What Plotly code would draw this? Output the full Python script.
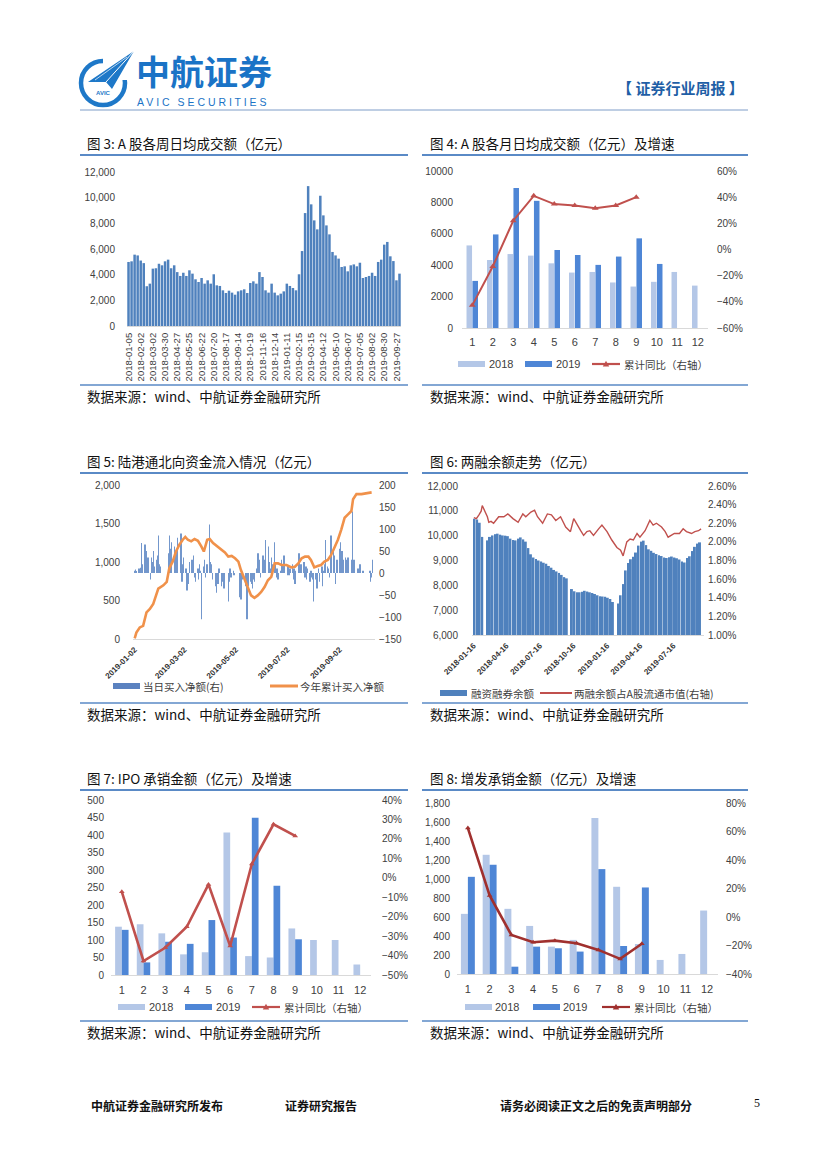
import plotly.graph_objects as go
import pandas as pd

# page offset: the browser adds an 8px body margin
OFF = 8
W, H = 827 - OFF, 1169 - OFF
def X(px): return (px - OFF) / W
def Y(py): return 1 - (py - OFF) / H

CJK = "Noto Sans CJK SC"
ARIAL = "Liberation Sans"
TXT = "#262626"
AX = "#404040"
BLUE = "#4F81BD"
LIGHT = "#B4C7E7"
MID = "#4E86D6"
RED = "#C0504D"
DARKRED = "#A0302E"
ORANGE = "#F0914A"
LINEBLUE = "#5A8AC6"

# ---------------- Chart 3: weekly average turnover (亿元)
c3_values = [4990, 5040, 5560, 5500, 5100, 4900, 3100, 3300, 4470, 4500, 4850, 4730,
             5040, 5170, 4500, 4730, 4200, 3900, 4150, 3900, 4340, 4080, 3640, 3430,
             3740, 3300, 3560, 3300, 4030, 3170, 3120, 2780, 2570, 2750, 2600, 2440,
             2700, 2780, 2860, 2570, 3350, 3480, 3300, 4200, 3820, 2780, 2600, 3300,
             2600, 2390, 2520,
             2700, 3300, 3120, 2960, 2780, 4030, 5840, 8800, 10900, 9480, 8230, 7530,
             10150, 8620, 7840, 7140, 5770, 5500, 5250, 4600, 4650, 4260, 4730, 4800,
             4650, 4930, 3740, 3820, 3900, 4150, 3900, 4990, 5170, 6340, 6550, 5430,
             5060, 3560, 4080]
c3_skip = ["2018-10-05", "2019-02-08", "2019-10-04"]
c3_dates = [d.strftime("%Y-%m-%d") for d in pd.date_range("2018-01-05", "2019-10-11", freq="W-FRI")
            if d.strftime("%Y-%m-%d") not in c3_skip]
n3 = min(len(c3_dates), len(c3_values))
c3_dates, c3_values = c3_dates[:n3], c3_values[:n3]
c3_ticks = c3_dates[::4][:23]

# ---------------- Chart 4: monthly average turnover
months = [str(i) for i in range(1, 13)]
c4_2018 = [5260, 4330, 4710, 4610, 4120, 3530, 3570, 2900, 2640, 2940, 3570, 2700]
c4_2019 = [3000, 5960, 8920, 8100, 4970, 4650, 4020, 4550, 5710, 4080]
c4_yoy = [-42.7, -13, 22, 41, 34.7, 33.7, 31.6, 33.7, 40]

# ---------------- Chart 5: northbound flows 2019
c5_jan = [5, 8, 3, 10, 6, 12, 68, 20, 65, 30, 50, 20, 35, -15, 35, 25, 50, 15, 30, 40, 85, 20]
c5_feb = [15, 45, 85, 55, 30, 70, 60, 35, 50, 35, 80, 40, 90, -20, 20]
c5_mar = [35, 10, -40, -15, -25, 25, 30, 5, 40, -10, -20, 10, -15, 20, 5, -105, 15, 30, -10, 5, 20]
c5_apr = [110, 25, 20, -15, -30, -45, -20, -25, 10, -30, -20, -5, -35, -65, -20, 10, -10, 5, -5]
c5_may = [-5, -55, -60, -55, -15, -30, -105, -40, -30, -20, -25, -35, -15, -20, 10, 45, 25, 30, -10]
c5_jun = [40, 15, 30, 75, 60, 25, 10, 35, 20, 70, 20, -10, 10, -15, 5, 30, 20, 15, 40]
c5_jul = [-5, 15, -5, 10, 20, -15, 10, -25, 5, 15, 45, 20, 10, 20, 25, -10, 15, -15, 10, -20, 5, -10]
c5_aug = [-15, -65, -15, -35, -10, 10, -20, 15, -30, 5, 20, 75, 15, 10, -10, 20, 85, 55, 40, -25, 20, 30]
c5_sep = [55, 70, 40, 50, 30, 35, 30, 25, 35, 30, 140, 20, 30, 15, 5, 10, 5, 20, 10, 5]
c5_oct = [5, -20, -10, 30]
c5_daily = c5_jan + c5_feb + c5_mar + c5_apr + c5_may + c5_jun + c5_jul + c5_aug + c5_sep + c5_oct
c5_closed = ["2019-02-04", "2019-02-05", "2019-02-06", "2019-02-07", "2019-02-08", "2019-04-05",
             "2019-04-19", "2019-04-22", "2019-05-01", "2019-05-02", "2019-05-03", "2019-05-13",
             "2019-06-07", "2019-07-01", "2019-09-13", "2019-10-01", "2019-10-02", "2019-10-03",
             "2019-10-04", "2019-10-07"]
c5_days = [d.strftime("%Y-%m-%d") for d in pd.bdate_range("2019-01-02", "2019-10-11")
           if d.strftime("%Y-%m-%d") not in c5_closed]
n5 = min(len(c5_days), len(c5_daily))
c5_days, c5_daily = c5_days[:n5], c5_daily[:n5]

c5_cum_dates = ["2019-01-02", "2019-01-04", "2019-01-08", "2019-01-12", "2019-01-16", "2019-01-20",
                "2019-01-24", "2019-01-30", "2019-02-05", "2019-02-09", "2019-02-12", "2019-02-16",
                "2019-02-20", "2019-02-24", "2019-02-28", "2019-03-03", "2019-03-06", "2019-03-10",
                "2019-03-14", "2019-03-18", "2019-03-22", "2019-03-25", "2019-03-29", "2019-04-01",
                "2019-04-05", "2019-04-10", "2019-04-15", "2019-04-19", "2019-04-23", "2019-04-27",
                "2019-05-01", "2019-05-05", "2019-05-08", "2019-05-12", "2019-05-16", "2019-05-20",
                "2019-05-24", "2019-05-28", "2019-06-01", "2019-06-05", "2019-06-09", "2019-06-13",
                "2019-06-17", "2019-06-21", "2019-06-25", "2019-07-01", "2019-07-07", "2019-07-11",
                "2019-07-15", "2019-07-19", "2019-07-23", "2019-07-27", "2019-07-30", "2019-08-03",
                "2019-08-07", "2019-08-11", "2019-08-15", "2019-08-19", "2019-08-23", "2019-08-27",
                "2019-08-31", "2019-09-04", "2019-09-08", "2019-09-12", "2019-09-16", "2019-09-18",
                "2019-09-22", "2019-09-28", "2019-10-04", "2019-10-10"]
c5_cum = [9, 83, 150, 171, 346, 390, 456, 654, 697, 741, 917, 1004, 1136, 1224, 1289,
          1325, 1289, 1268, 1298, 1276, 1202, 1136, 1289, 1298, 1246, 1202, 1158, 1123, 1070, 1079,
          1048, 1004, 895, 785, 675, 566, 535, 566, 610, 675, 763, 807, 982, 982, 961,
          961, 930, 939, 982, 1048, 1070, 1070, 1026, 930, 947, 961, 1004, 1026, 1092, 1180, 1289,
          1421, 1575, 1618, 1662, 1816, 1882, 1882, 1890, 1904]
c5_ticks = ["2019-01-02", "2019-03-02", "2019-05-02", "2019-07-02", "2019-09-02"]

# ---------------- Chart 6: margin balance
c6_2018 = [10680, 10650, 10520, 9950, 9810, 9950, 10010, 10060, 10080, 10040, 10010, 10000,
           9980, 9880, 9830, 9810, 9880, 9930, 9850, 9760, 9500, 9250, 9120, 9060, 9000, 8960,
           8910, 8870, 8780, 8710, 8620, 8560, 8500, 8420, 8330, 8280, 7850, 7760, 7720, 7720,
           7740, 7780, 7750, 7720, 7690, 7650, 7600, 7560]
c6_2019 = [7550, 7540, 7500, 7450, 7330, 7270, 7600, 8050, 8600, 8900, 9050, 9150, 9320, 9600,
           9760, 9800, 9620, 9450, 9390, 9310, 9260, 9210, 9180, 9120, 9100, 9130, 9160, 9120,
           9090, 9040, 8960, 8920, 9100, 9170, 9380, 9550, 9680, 9730]
c6_balance = c6_2018 + c6_2019
c6_skip = ["2018-02-16", "2018-10-05", "2019-02-08"]
c6_weeks = [d.strftime("%Y-%m-%d") for d in pd.date_range("2018-01-19", "2019-09-27", freq="W-FRI")
            if d.strftime("%Y-%m-%d") not in c6_skip]
n6 = min(len(c6_weeks), len(c6_balance))
c6_weeks, c6_balance = c6_weeks[:n6], c6_balance[:n6]
c6_ratio_dates = ["2018-01-17", "2018-01-24", "2018-01-31", "2018-02-06", "2018-02-09", "2018-02-23",
                  "2018-02-27", "2018-03-05", "2018-03-12", "2018-03-26", "2018-04-09", "2018-04-20",
                  "2018-05-04", "2018-05-18", "2018-05-31", "2018-06-08", "2018-06-22", "2018-07-02",
                  "2018-07-10", "2018-07-24", "2018-08-06", "2018-08-17", "2018-08-29", "2018-09-11",
                  "2018-09-25", "2018-10-08", "2018-10-17", "2018-10-26", "2018-11-05", "2018-11-13",
                  "2018-11-22", "2018-11-30", "2018-12-10", "2018-12-24",
                  "2019-01-02", "2019-01-16", "2019-01-29", "2019-02-12", "2019-02-22", "2019-03-01",
                  "2019-03-11", "2019-03-20", "2019-03-29", "2019-04-08", "2019-04-16", "2019-04-30",
                  "2019-05-13", "2019-05-22", "2019-05-31", "2019-06-14", "2019-06-24", "2019-07-02",
                  "2019-07-11", "2019-07-19", "2019-08-02", "2019-08-12", "2019-08-21", "2019-09-04",
                  "2019-09-13", "2019-09-23", "2019-09-30"]
c6_ratio = [2.26, 2.25, 2.29, 2.33, 2.39, 2.27, 2.21, 2.22, 2.20, 2.27, 2.27, 2.30, 2.25, 2.21,
            2.30, 2.27, 2.32, 2.34, 2.27, 2.20, 2.30, 2.29, 2.23, 2.27, 2.16, 2.11, 2.25, 2.18,
            2.12, 2.07, 2.11, 2.12, 2.07, 2.14, 2.18, 2.11, 2.02, 1.94, 1.91, 1.85, 2.00, 2.03,
            2.02, 2.09, 2.05, 2.12, 2.23, 2.18, 2.20, 2.16, 2.11, 2.05, 2.07, 2.09, 2.09, 2.14,
            2.11, 2.09, 2.11, 2.12, 2.14]
c6_ticks = ["2018-01-16", "2018-04-16", "2018-07-16", "2018-10-16", "2019-01-16", "2019-04-16", "2019-07-16"]

# ---------------- Chart 7: IPO underwriting
c7_2018 = [138, 145, 119, 59, 65, 407, 54, 50, 133, 100, 100, 30]
c7_2019 = [129, 36, 95, 89, 157, 107, 449, 255, 102]
c7_yoy = [-7.2, -42.8, -36, -25.2, -3.4, -35.1, 7.1, 27.5, 21.5]

# ---------------- Chart 8: follow-on underwriting
c8_2018 = [633, 1255, 686, 506, 288, 359, 1642, 918, 316, 148, 211, 668]
c8_2019 = [1023, 1150, 77, 288, 271, 236, 1104, 295, 911]
c8_yoy = [62.4, 15.1, -12.6, -17.7, -16.6, -18.4, -23.1, -29.4, -18.8]

DAY = 86400000

fig = go.Figure()

# Chart 3
fig.add_trace(go.Bar(x=c3_dates, y=c3_values, xaxis="x", yaxis="y", marker_color=BLUE,
                     marker_line_width=0, width=0.82, showlegend=False))
# Chart 4
fig.add_trace(go.Bar(x=months, y=c4_2018, xaxis="x2", yaxis="y2", marker_color=LIGHT,
                     marker_line_width=0, width=0.27, offset=-0.28, showlegend=False))
fig.add_trace(go.Bar(x=months[:len(c4_2019)], y=c4_2019, xaxis="x2", yaxis="y2", marker_color=MID,
                     marker_line_width=0, width=0.27, offset=0.01, showlegend=False))
fig.add_trace(go.Scatter(x=months[:len(c4_yoy)], y=c4_yoy, xaxis="x2", yaxis="y3", mode="lines+markers",
                         line=dict(color=RED, width=2), marker=dict(symbol="triangle-up", size=6, color=RED),
                         showlegend=False))
# Chart 5
fig.add_trace(go.Bar(x=c5_days, y=c5_daily, xaxis="x3", yaxis="y4", marker_color="#7397CC",
                     marker_line_width=0, width=0.5 * DAY, showlegend=False))
fig.add_trace(go.Scatter(x=c5_cum_dates, y=c5_cum, xaxis="x3", yaxis="y5", mode="lines",
                         line=dict(color=ORANGE, width=2.6), showlegend=False))
# Chart 6
fig.add_trace(go.Bar(x=c6_weeks, y=c6_balance, xaxis="x4", yaxis="y6", marker_color=BLUE,
                     marker_line_width=0, width=5.4 * DAY, showlegend=False))
fig.add_trace(go.Scatter(x=c6_ratio_dates, y=c6_ratio, xaxis="x4", yaxis="y7", mode="lines",
                         line=dict(color=RED, width=1.4), showlegend=False))
# Chart 7
fig.add_trace(go.Bar(x=months, y=c7_2018, xaxis="x5", yaxis="y8", marker_color=LIGHT,
                     marker_line_width=0, width=0.31, offset=-0.31, showlegend=False))
fig.add_trace(go.Bar(x=months[:len(c7_2019)], y=c7_2019, xaxis="x5", yaxis="y8", marker_color=MID,
                     marker_line_width=0, width=0.31, offset=0.0, showlegend=False))
fig.add_trace(go.Scatter(x=months[:len(c7_yoy)], y=c7_yoy, xaxis="x5", yaxis="y9", mode="lines+markers",
                         line=dict(color=RED, width=2.6), marker=dict(symbol="triangle-up", size=5, color=RED),
                         showlegend=False))
# Chart 8
fig.add_trace(go.Bar(x=months, y=c8_2018, xaxis="x6", yaxis="y10", marker_color=LIGHT,
                     marker_line_width=0, width=0.32, offset=-0.32, showlegend=False))
fig.add_trace(go.Bar(x=months[:len(c8_2019)], y=c8_2019, xaxis="x6", yaxis="y10", marker_color=MID,
                     marker_line_width=0, width=0.32, offset=0.0, showlegend=False))
fig.add_trace(go.Scatter(x=months[:len(c8_yoy)], y=c8_yoy, xaxis="x6", yaxis="y11", mode="lines+markers",
                         line=dict(color=DARKRED, width=2.6), marker=dict(symbol="triangle-up", size=5, color=DARKRED),
                         showlegend=False))

tickf = dict(family=ARIAL, size=10, color=AX)
base = dict(showgrid=False, zeroline=False, ticks="", automargin=False, tickfont=tickf)

def xax(dom, anchor, **kw):
    d = dict(base); d.update(domain=[X(dom[0]), X(dom[1])], anchor=anchor, showline=True,
                             linecolor="#D9D9D9", linewidth=1)
    d.update(kw); return d

def yax(dom, anchor, **kw):
    d = dict(base); d.update(domain=[Y(dom[1]), Y(dom[0])], anchor=anchor, showline=False)
    d.update(kw); return d

cat_font = dict(family=ARIAL, size=11, color=AX)
layout = dict(
    width=W, height=H, margin=dict(l=0, r=0, t=0, b=0),
    paper_bgcolor="white", plot_bgcolor="rgba(0,0,0,0)", barmode="overlay",
    # chart 3
    xaxis=xax((127, 401), "y", type="category", tickmode="array", tickvals=c3_ticks, ticktext=c3_ticks,
              tickangle=-90, tickfont=dict(family=ARIAL, size=9.5, color=AX), ticklabelstandoff=2,
              range=[-0.5, len(c3_dates) - 0.5]),
    yaxis=yax((172, 326), "x", range=[0, 12000], dtick=2000, tickformat=",d", ticklabelstandoff=11),
    # chart 4
    xaxis2=xax((462, 708), "y2", type="category", range=[-0.5, 11.5], tickfont=cat_font, ticklabelstandoff=4),
    yaxis2=yax((171, 328), "x2", range=[0, 10000], dtick=2000, tickformat="d", ticklabelstandoff=8),
    yaxis3=yax((171, 328), "x2", overlaying="y2", side="right", range=[-60, 60], dtick=20,
               ticksuffix="%", ticklabelstandoff=8),
    # chart 5 (bars base axis on right, cumulative line overlay on left)
    xaxis3=xax((133, 375), "y4", type="date", range=["2018-12-31", "2019-10-14"], tickmode="array",
               tickvals=c5_ticks, tickformat="%Y-%m-%d", tickangle=-45,
               tickfont=dict(family=ARIAL, size=8, color="#333333", weight="bold"), ticklabelstandoff=2),
    yaxis4=yax((485, 639), "x3", side="right", range=[-150, 200], dtick=50, ticklabelstandoff=3),
    yaxis5=yax((485, 639), "x3", overlaying="y4", side="left", range=[0, 2000], dtick=500,
               tickformat=",d", ticklabelstandoff=12),
    # chart 6
    xaxis4=xax((472, 704), "y6", type="date", range=["2018-01-12", "2019-10-08"], tickmode="array",
               tickvals=c6_ticks, tickformat="%Y-%m-%d", tickangle=-45,
               tickfont=dict(family=ARIAL, size=8, color="#333333", weight="bold"), ticklabelstandoff=2),
    yaxis6=yax((486, 635), "x4", range=[6000, 12000], dtick=1000, tickformat=",d", ticklabelstandoff=13),
    yaxis7=yax((486, 635), "x4", overlaying="y6", side="right", range=[1.0, 2.6], dtick=0.2,
               tickformat=".2f", ticksuffix="%", ticklabelstandoff=3),
    # chart 7
    xaxis5=xax((111, 371), "y8", type="category", range=[-0.5, 11.5], tickfont=cat_font, ticklabelstandoff=5),
    yaxis8=yax((800, 975), "x5", range=[0, 500], dtick=50, ticklabelstandoff=6),
    yaxis9=yax((800, 975), "x5", overlaying="y8", side="right", range=[-50, 40], dtick=10,
               ticksuffix="%", ticklabelstandoff=10),
    # chart 8
    xaxis6=xax((457, 718), "y10", type="category", range=[-0.5, 11.5], tickfont=cat_font, ticklabelstandoff=5),
    yaxis10=yax((803, 974), "x6", range=[0, 1800], dtick=200, tickformat=",d", ticklabelstandoff=6),
    yaxis11=yax((803, 974), "x6", overlaying="y10", side="right", range=[-40, 80], dtick=20,
                ticksuffix="%", ticklabelstandoff=7),
)
fig.update_layout(**layout)

shapes = []
annots = []

def P(x, y):
    return f"{X(x):.6f},{Y(y):.6f}"

def hline(x0, x1, y, color, w):
    shapes.append(dict(type="line", xref="paper", yref="paper", x0=X(x0), x1=X(x1), y0=Y(y), y1=Y(y),
                       line=dict(color=color, width=w)))

def rect(x0, y0, x1, y1, color):
    shapes.append(dict(type="rect", xref="paper", yref="paper", x0=X(x0), x1=X(x1), y0=Y(y1), y1=Y(y0),
                       fillcolor=color, line=dict(width=0)))

def tri(cx, cy, s, color):
    shapes.append(dict(type="path", xref="paper", yref="paper",
                       path=f"M{P(cx - s, cy + s * 0.8)} L{P(cx + s, cy + s * 0.8)} L{P(cx, cy - s)} Z",
                       fillcolor=color, line=dict(width=0)))

def text(x, y, s, size, color=TXT, family=CJK, xanchor="left", weight="normal"):
    annots.append(dict(x=X(x), y=Y(y), xref="paper", yref="paper", text=s, showarrow=False,
                       xanchor=xanchor, yanchor="middle", borderpad=0,
                       font=dict(family=family, size=size, color=color, weight=weight)))

# ---- header
LOGO = "#1E78C8"
shapes.append(dict(type="circle", xref="paper", yref="paper", x0=X(81), x1=X(125), y0=Y(105), y1=Y(61),
                   line=dict(color=LOGO, width=4.5), fillcolor="white"))
shapes.append(dict(type="path", xref="paper", yref="paper",
                   path=f"M{P(103, 56)} L{P(131, 56)} L{P(131, 80)} L{P(103, 80)} Z",
                   fillcolor="white", line=dict(width=0)))
shapes.append(dict(type="path", xref="paper", yref="paper",
                   path=f"M{P(88, 82)} L{P(134, 51)} L{P(112, 89)} L{P(106, 82)} Z",
                   fillcolor=LOGO, line=dict(width=0)))
shapes.append(dict(type="line", xref="paper", yref="paper", x0=X(106), y0=Y(82), x1=X(134), y1=Y(51),
                   line=dict(color="white", width=1)))
shapes.append(dict(type="line", xref="paper", yref="paper", x0=X(95), y0=Y(80), x1=X(127), y1=Y(57),
                   line=dict(color="white", width=0.7)))
text(103, 93, "AVIC", 6, LOGO, ARIAL, "center", "bold")
text(135, 70, "中航证券", 34, "#1A73C6", CJK, "left", "bold")
text(136, 102, "A V I C &#8201; S E C U R I T I E S", 10.5, "#1A73C6", ARIAL, "left")
text(745, 88, "【 证券行业周报 】", 15, "#1F5FA6", CJK, "right", "bold")
hline(80, 748, 110, "#7F9DC8", 1)

# ---- panel titles / rules / sources
panels = [
    (80, 408, 88, 143, 155, 385, 396, "图 3: A 股各周日均成交额（亿元）"),
    (422, 748, 431, 143, 155, 385, 396, "图 4: A 股各月日均成交额（亿元）及增速"),
    (80, 408, 88, 461, 473, 703, 714, "图 5: 陆港通北向资金流入情况（亿元）"),
    (422, 748, 431, 461, 473, 703, 714, "图 6: 两融余额走势（亿元）"),
    (80, 408, 88, 778, 790, 1021, 1032, "图 7: IPO 承销金额（亿元）及增速"),
    (422, 748, 431, 778, 790, 1021, 1032, "图 8: 增发承销金额（亿元）及增速"),
]
for x0, x1, tx, ty, l1, l2, sy, title in panels:
    text(tx - 2, ty, title, 13.5, "#111111")
    hline(x0, x1, l1, LINEBLUE, 2)
    hline(x0, x1, l2, LINEBLUE, 1.5)
    text(tx - 2, sy, "数据来源：wind、中航证券金融研究所", 13.5, "#111111")

# ---- legends
LF = 10.5
def bar_legend(x0, y, color):
    rect(x0, y - 3, x0 + 27, y + 3, color)

def line_legend(x0, y, color, marker=False, w=2.2, length=28):
    hline(x0, x0 + length, y, color, w)
    if marker:
        tri(x0 + length / 2, y, 3.2, color)

# chart 4
bar_legend(458, 364, LIGHT); text(488, 364, "2018", 11, AX, ARIAL)
bar_legend(525, 364, MID); text(555, 364, "2019", 11, AX, ARIAL)
line_legend(592, 364, RED, True); text(623, 364, "累计同比（右轴）", LF, AX)
# chart 5
bar_legend(113, 686, "#5B82C0"); text(142, 686, "当日买入净额(右)", LF, AX)
line_legend(270, 686, ORANGE, False, 3); text(299, 686, "今年累计买入净额", LF, AX)
# chart 6
bar_legend(440, 693, BLUE); text(470, 693, "融资融券余额", LF, AX)
line_legend(540, 693, RED, False, 2, 32); text(573, 693, "两融余额占A股流通市值(右轴)", LF, AX)
# chart 7
bar_legend(118, 1007, LIGHT); text(148, 1007, "2018", 11, AX, ARIAL)
bar_legend(185, 1007, MID); text(215, 1007, "2019", 11, AX, ARIAL)
line_legend(252, 1007, RED, True); text(283, 1007, "累计同比（右轴）", LF, AX)
# chart 8
bar_legend(465, 1007, LIGHT); text(494, 1007, "2018", 11, AX, ARIAL)
bar_legend(533, 1007, MID); text(562, 1007, "2019", 11, AX, ARIAL)
line_legend(602, 1007, DARKRED, True); text(633, 1007, "累计同比（右轴）", LF, AX)

# ---- footer
text(90, 1105, "中航证券金融研究所发布", 12, "#111111", CJK, "left", "bold")
text(284, 1105, "证券研究报告", 12, "#111111", CJK, "left", "bold")
text(499, 1105, "请务必阅读正文之后的免责声明部分", 12, "#111111", CJK, "left", "bold")
text(757, 1103, "5", 12, "#111111", "Liberation Serif", "center")

fig.update_layout(shapes=shapes, annotations=annots)
fig.write_html("out.html")
